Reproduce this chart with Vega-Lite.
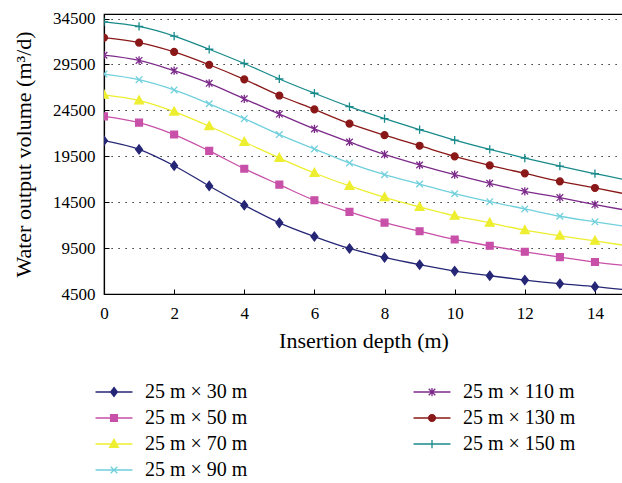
{
  "$schema": "https://vega.github.io/schema/vega-lite/v6.json",
  "width": 519,
  "height": 280,
  "autosize": {"type": "none"},
  "padding": {"left": 104, "top": 14, "right": 0, "bottom": 189},
  "background": "white",
  "config": {
    "font": "Liberation Serif",
    "view": {"stroke": "black", "strokeWidth": 1.2},
    "axis": {
      "domainColor": "black", "domainWidth": 1.2, "tickColor": "black", "tickWidth": 1,
      "labelColor": "black", "titleColor": "black", "labelFont": "Liberation Serif", "titleFont": "Liberation Serif",
      "labelFontSize": 17, "titleFontSize": 22, "titleFontWeight": "normal", "labelFlush": false
    },
    "legend": {
      "symbolFillColor": "black", "symbolStrokeColor": "black", "symbolOpacity": 1, "symbolStrokeWidth": 1.3, "symbolSize": 121,
      "labelFont": "Liberation Serif", "labelFontSize": 20, "labelColor": "black", "labelOffset": 21, "labelLimit": 300, "padding": 0
    }
  },
  "data": {
    "values": [
      {"d": 0, "s": "25 m × 30 m", "q": 21200}, {"d": 1, "s": "25 m × 30 m", "q": 20250}, {"d": 2, "s": "25 m × 30 m", "q": 18470}, {"d": 3, "s": "25 m × 30 m", "q": 16270},
      {"d": 4, "s": "25 m × 30 m", "q": 14170}, {"d": 5, "s": "25 m × 30 m", "q": 12250}, {"d": 6, "s": "25 m × 30 m", "q": 10760}, {"d": 7, "s": "25 m × 30 m", "q": 9460},
      {"d": 8, "s": "25 m × 30 m", "q": 8480}, {"d": 9, "s": "25 m × 30 m", "q": 7690}, {"d": 10, "s": "25 m × 30 m", "q": 7000}, {"d": 11, "s": "25 m × 30 m", "q": 6490},
      {"d": 12, "s": "25 m × 30 m", "q": 6020}, {"d": 13, "s": "25 m × 30 m", "q": 5620}, {"d": 14, "s": "25 m × 30 m", "q": 5300}, {"d": 15, "s": "25 m × 30 m", "q": 4900},

      {"d": 0, "s": "25 m × 50 m", "q": 23850}, {"d": 1, "s": "25 m × 50 m", "q": 23170}, {"d": 2, "s": "25 m × 50 m", "q": 21870}, {"d": 3, "s": "25 m × 50 m", "q": 20090},
      {"d": 4, "s": "25 m × 50 m", "q": 18150}, {"d": 5, "s": "25 m × 50 m", "q": 16410}, {"d": 6, "s": "25 m × 50 m", "q": 14710}, {"d": 7, "s": "25 m × 50 m", "q": 13440},
      {"d": 8, "s": "25 m × 50 m", "q": 12280}, {"d": 9, "s": "25 m × 50 m", "q": 11340}, {"d": 10, "s": "25 m × 50 m", "q": 10440}, {"d": 11, "s": "25 m × 50 m", "q": 9750},
      {"d": 12, "s": "25 m × 50 m", "q": 9100}, {"d": 13, "s": "25 m × 50 m", "q": 8520}, {"d": 14, "s": "25 m × 50 m", "q": 7980}, {"d": 15, "s": "25 m × 50 m", "q": 7550},

      {"d": 0, "s": "25 m × 70 m", "q": 26190}, {"d": 1, "s": "25 m × 70 m", "q": 25580}, {"d": 2, "s": "25 m × 70 m", "q": 24360}, {"d": 3, "s": "25 m × 70 m", "q": 22770},
      {"d": 4, "s": "25 m × 70 m", "q": 21060}, {"d": 5, "s": "25 m × 70 m", "q": 19310}, {"d": 6, "s": "25 m × 70 m", "q": 17680}, {"d": 7, "s": "25 m × 70 m", "q": 16270},
      {"d": 8, "s": "25 m × 70 m", "q": 15030}, {"d": 9, "s": "25 m × 70 m", "q": 13980}, {"d": 10, "s": "25 m × 70 m", "q": 13010}, {"d": 11, "s": "25 m × 70 m", "q": 12250},
      {"d": 12, "s": "25 m × 70 m", "q": 11450}, {"d": 13, "s": "25 m × 70 m", "q": 10840}, {"d": 14, "s": "25 m × 70 m", "q": 10290}, {"d": 15, "s": "25 m × 70 m", "q": 9700},

      {"d": 0, "s": "25 m × 90 m", "q": 28460}, {"d": 1, "s": "25 m × 90 m", "q": 27850}, {"d": 2, "s": "25 m × 90 m", "q": 26730}, {"d": 3, "s": "25 m × 90 m", "q": 25220},
      {"d": 4, "s": "25 m × 90 m", "q": 23600}, {"d": 5, "s": "25 m × 90 m", "q": 21870}, {"d": 6, "s": "25 m × 90 m", "q": 20300}, {"d": 7, "s": "25 m × 90 m", "q": 18760},
      {"d": 8, "s": "25 m × 90 m", "q": 17500}, {"d": 9, "s": "25 m × 90 m", "q": 16480}, {"d": 10, "s": "25 m × 90 m", "q": 15430}, {"d": 11, "s": "25 m × 90 m", "q": 14560},
      {"d": 12, "s": "25 m × 90 m", "q": 13770}, {"d": 13, "s": "25 m × 90 m", "q": 12970}, {"d": 14, "s": "25 m × 90 m", "q": 12360}, {"d": 15, "s": "25 m × 90 m", "q": 11780},

      {"d": 0, "s": "25 m × 110 m", "q": 30510}, {"d": 1, "s": "25 m × 110 m", "q": 29940}, {"d": 2, "s": "25 m × 110 m", "q": 28820}, {"d": 3, "s": "25 m × 110 m", "q": 27450},
      {"d": 4, "s": "25 m × 110 m", "q": 25760}, {"d": 5, "s": "25 m × 110 m", "q": 24100}, {"d": 6, "s": "25 m × 110 m", "q": 22480}, {"d": 7, "s": "25 m × 110 m", "q": 21060},
      {"d": 8, "s": "25 m × 110 m", "q": 19700}, {"d": 9, "s": "25 m × 110 m", "q": 18550}, {"d": 10, "s": "25 m × 110 m", "q": 17500}, {"d": 11, "s": "25 m × 110 m", "q": 16560},
      {"d": 12, "s": "25 m × 110 m", "q": 15690}, {"d": 13, "s": "25 m × 110 m", "q": 15000}, {"d": 14, "s": "25 m × 110 m", "q": 14240}, {"d": 15, "s": "25 m × 110 m", "q": 13550},

      {"d": 0, "s": "25 m × 130 m", "q": 32420}, {"d": 1, "s": "25 m × 130 m", "q": 31880}, {"d": 2, "s": "25 m × 130 m", "q": 30870}, {"d": 3, "s": "25 m × 130 m", "q": 29470},
      {"d": 4, "s": "25 m × 130 m", "q": 27880}, {"d": 5, "s": "25 m × 130 m", "q": 26120}, {"d": 6, "s": "25 m × 130 m", "q": 24610}, {"d": 7, "s": "25 m × 130 m", "q": 23060},
      {"d": 8, "s": "25 m × 130 m", "q": 21800}, {"d": 9, "s": "25 m × 130 m", "q": 20650}, {"d": 10, "s": "25 m × 130 m", "q": 19490}, {"d": 11, "s": "25 m × 130 m", "q": 18510},
      {"d": 12, "s": "25 m × 130 m", "q": 17640}, {"d": 13, "s": "25 m × 130 m", "q": 16770}, {"d": 14, "s": "25 m × 130 m", "q": 16050}, {"d": 15, "s": "25 m × 130 m", "q": 15300},

      {"d": 0, "s": "25 m × 150 m", "q": 34150}, {"d": 1, "s": "25 m × 150 m", "q": 33640}, {"d": 2, "s": "25 m × 150 m", "q": 32600}, {"d": 3, "s": "25 m × 150 m", "q": 31160},
      {"d": 4, "s": "25 m × 150 m", "q": 29610}, {"d": 5, "s": "25 m × 150 m", "q": 27920}, {"d": 6, "s": "25 m × 150 m", "q": 26370}, {"d": 7, "s": "25 m × 150 m", "q": 24900},
      {"d": 8, "s": "25 m × 150 m", "q": 23600}, {"d": 9, "s": "25 m × 150 m", "q": 22410}, {"d": 10, "s": "25 m × 150 m", "q": 21260}, {"d": 11, "s": "25 m × 150 m", "q": 20250},
      {"d": 12, "s": "25 m × 150 m", "q": 19310}, {"d": 13, "s": "25 m × 150 m", "q": 18440}, {"d": 14, "s": "25 m × 150 m", "q": 17600}, {"d": 15, "s": "25 m × 150 m", "q": 16850}
    ]
  },
  "encoding": {
    "x": {
      "field": "d", "type": "quantitative",
      "scale": {"domain": [0, 14.8], "nice": false, "zero": false},
      "axis": {"title": "Insertion depth (m)", "values": [0, 2, 4, 6, 8, 10, 12, 14], "grid": false, "tickSize": -5, "labelPadding": 16, "titlePadding": 9}
    },
    "y": {
      "field": "q", "type": "quantitative",
      "scale": {"domain": [4500, 35000], "nice": false, "zero": false},
      "axis": {"title": "Water output volume (m³/d)", "values": [4500, 9500, 14500, 19500, 24500, 29500, 34500], "format": "d", "grid": true, "gridColor": "black", "gridDash": [1.2, 5.8], "gridWidth": 1.2, "tickSize": -5, "labelPadding": 14, "titlePadding": 17}
    }
  },
  "resolve": {"scale": {"shape": "independent", "fill": "independent", "stroke": "independent"}},
  "layer": [
    {
      "mark": {"type": "line", "interpolate": "monotone", "strokeWidth": 1.3, "clip": true},
      "encoding": {
        "color": {
          "field": "s", "type": "nominal", "legend": null,
          "scale": {
            "domain": ["25 m × 30 m", "25 m × 50 m", "25 m × 70 m", "25 m × 90 m", "25 m × 110 m", "25 m × 130 m", "25 m × 150 m"],
            "range": ["#262676", "#c850a8", "#eeee30", "#70d0dc", "#7c2a8a", "#8a1818", "#188a8a"]
          }
        }
      }
    },
    {
      "mark": {"type": "point", "filled": true, "size": 121, "strokeWidth": 1.3, "opacity": 0, "clip": true},
      "encoding": {
        "fill": {
          "field": "s", "type": "nominal",
          "legend": {"orient": "none", "legendX": 0, "legendY": 368, "columns": 2, "columnPadding": 162, "rowPadding": 6, "title": null},
          "scale": {
            "domain": ["25 m × 30 m", "25 m × 50 m", "25 m × 70 m", "25 m × 90 m", "25 m × 110 m", "25 m × 130 m", "25 m × 150 m"],
            "range": ["#262676", "#c850a8", "#eeee30", "#70d0dc", "#7c2a8a", "#8a1818", "#188a8a"]
          }
        },
        "stroke": {
          "field": "s", "type": "nominal",
          "legend": {"orient": "none", "legendX": 0, "legendY": 368, "columns": 2, "columnPadding": 162, "rowPadding": 6, "title": null},
          "scale": {
            "domain": ["25 m × 30 m", "25 m × 50 m", "25 m × 70 m", "25 m × 90 m", "25 m × 110 m", "25 m × 130 m", "25 m × 150 m"],
            "range": ["#262676", "#c850a8", "#eeee30", "#70d0dc", "#7c2a8a", "#8a1818", "#188a8a"]
          }
        },
        "shape": {
          "field": "s", "type": "nominal",
          "legend": {"orient": "none", "legendX": 0, "legendY": 368, "columns": 2, "columnPadding": 162, "rowPadding": 6, "title": null},
          "scale": {
            "domain": ["25 m × 30 m", "25 m × 50 m", "25 m × 70 m", "25 m × 90 m", "25 m × 110 m", "25 m × 130 m", "25 m × 150 m"],
            "range": ["M-3.36,0L3.36,0M0,-0.82L0.62,0L0,0.82L-0.62,0Z", "M-3.36,0L3.36,0M-0.62,-0.62L0.62,-0.62L0.62,0.62L-0.62,0.62Z", "M-3.36,0L3.36,0M0,-0.85L0.8,0.6L-0.8,0.6Z", "M-3.36,0L3.36,0M-0.6,-0.6L0.6,0.6M-0.6,0.6L0.6,-0.6", "M-3.36,0L3.36,0M-0.6,-0.6L0.6,0.6M-0.6,0.6L0.6,-0.6M0,-0.75L0,0.75", "M-3.36,0L3.36,0M0.62,0A0.62,0.62,0,1,1,-0.62,0A0.62,0.62,0,1,1,0.62,0Z", "M-3.36,0L3.36,0M0,-0.75L0,0.75"]
          }
        }
      }
    },
    {
      "mark": {"type": "point", "filled": true, "size": 121, "strokeWidth": 1.3, "opacity": 1, "clip": true},
      "encoding": {
        "fill": {
          "field": "s", "type": "nominal", "legend": null,
          "scale": {
            "domain": ["25 m × 30 m", "25 m × 50 m", "25 m × 70 m", "25 m × 90 m", "25 m × 110 m", "25 m × 130 m", "25 m × 150 m"],
            "range": ["#262676", "#c850a8", "#eeee30", "#70d0dc", "#7c2a8a", "#8a1818", "#188a8a"]
          }
        },
        "stroke": {
          "field": "s", "type": "nominal", "legend": null,
          "scale": {
            "domain": ["25 m × 30 m", "25 m × 50 m", "25 m × 70 m", "25 m × 90 m", "25 m × 110 m", "25 m × 130 m", "25 m × 150 m"],
            "range": ["#262676", "#c850a8", "#eeee30", "#70d0dc", "#7c2a8a", "#8a1818", "#188a8a"]
          }
        },
        "shape": {
          "field": "s", "type": "nominal", "legend": null,
          "scale": {
            "domain": ["25 m × 30 m", "25 m × 50 m", "25 m × 70 m", "25 m × 90 m", "25 m × 110 m", "25 m × 130 m", "25 m × 150 m"],
            "range": ["M0,-0.82L0.62,0L0,0.82L-0.62,0Z", "M-0.62,-0.62L0.62,-0.62L0.62,0.62L-0.62,0.62Z", "M0,-0.85L0.8,0.6L-0.8,0.6Z", "M-0.6,-0.6L0.6,0.6M-0.6,0.6L0.6,-0.6", "M-0.6,-0.6L0.6,0.6M-0.6,0.6L0.6,-0.6M0,-0.75L0,0.75", "M0.62,0A0.62,0.62,0,1,1,-0.62,0A0.62,0.62,0,1,1,0.62,0Z", "M-0.75,0L0.75,0M0,-0.75L0,0.75"]
          }
        }
      }
    }
  ]
}
